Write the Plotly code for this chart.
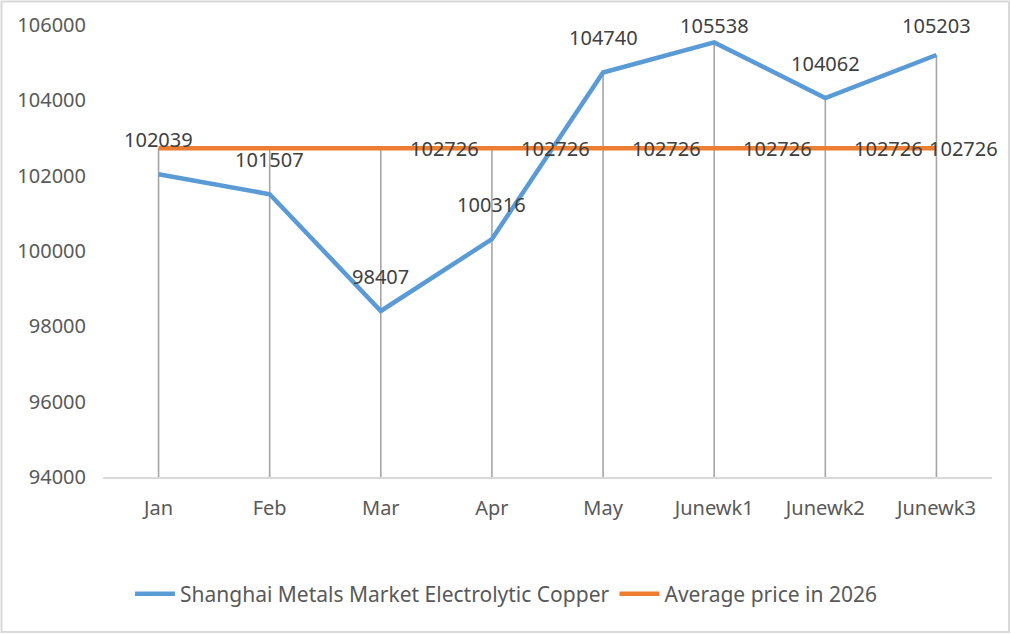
import plotly.graph_objects as go

categories = ["Jan", "Feb", "Mar", "Apr", "May", "Junewk1", "Junewk2", "Junewk3"]
copper = [102039, 101507, 98407, 100316, 104740, 105538, 104062, 105203]
average = [102726, 102726, 102726, 102726, 102726, 102726, 102726, 102726]
y_ticks = [94000, 96000, 98000, 100000, 102000, 104000, 106000]

FONT = "Noto Sans"
BLUE = "#5b9bd5"
ORANGE = "#ed7d31"
ymin, ymax = y_ticks[0], y_ticks[-1]

fig = go.Figure()

# drop lines
dx, dy = [], []
for c, a, b in zip(categories, copper, average):
    dx += [c, c, None]
    dy += [max(a, b), ymin, None]
fig.add_trace(go.Scatter(x=dx, y=dy, mode="lines", line=dict(color="#a6a6a6", width=1.6),
                         hoverinfo="skip", showlegend=False))

fig.add_trace(go.Scatter(x=categories, y=copper, mode="lines",
                         name="Shanghai Metals Market Electrolytic Copper",
                         line=dict(color=BLUE, width=4.5)))
fig.add_trace(go.Scatter(x=categories, y=average, mode="lines",
                         name="Average price in 2026",
                         line=dict(color=ORANGE, width=4.5)))

# data labels
off = (ymax - ymin) * 35 / 452
for c, v in zip(categories, copper):
    fig.add_annotation(x=c, y=min(v + off, ymax), text=str(v), showarrow=False,
                       xanchor="center", yanchor="middle",
                       font=dict(family=FONT, size=20, color="#404040"))
for i in range(2, len(categories)):
    last = i == len(categories) - 1
    fig.add_annotation(x=categories[i], y=average[i], text=str(average[i]), showarrow=False,
                       xanchor="left", yanchor="middle", xshift=-9 if last else 27,
                       font=dict(family=FONT, size=20, color="#404040"))

L, R, T, B = 103, 19, 25, 157
W, H = 1011, 634
pw, ph = W - L - R, H - T - B

# outer border
fig.add_shape(type="rect", xref="paper", yref="paper",
              x0=(1.5 - L) / pw, x1=(W - 2 - L) / pw,
              y0=-(H - 2 - T - ph) / ph, y1=(T - 1.5) / ph + 1,
              line=dict(color="#d9d9d9", width=2), layer="below")

fig.update_layout(
    width=W, height=H,
    margin=dict(l=L, r=R, t=T, b=B),
    paper_bgcolor="white", plot_bgcolor="white",
    font=dict(family=FONT, size=20, color="#595959"),
    showlegend=True,
    legend=dict(orientation="h", x=(130 - L) / pw, xanchor="left", y=(477 - 594) / ph,
                yanchor="middle",
                font=dict(family=FONT, size=21, color="#595959"), itemwidth=40,
                bgcolor="rgba(0,0,0,0)"),
    xaxis=dict(type="category", range=[-0.5, len(categories) - 0.5], showgrid=False,
               showline=True, linecolor="#d9d9d9", linewidth=2, ticks="",
               ticklabelstandoff=12, zeroline=False,
               tickfont=dict(family=FONT, size=20, color="#595959")),
    yaxis=dict(range=[ymin, ymax], tickvals=y_ticks, ticktext=[str(t) for t in y_ticks],
               showgrid=False, showline=False, zeroline=False, ticks="",
               ticklabelstandoff=16,
               tickfont=dict(family=FONT, size=20, color="#595959")),
)

fig.write_html("out.html")
